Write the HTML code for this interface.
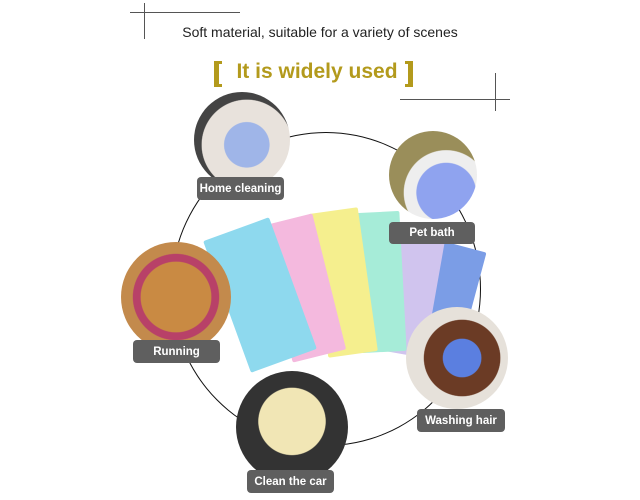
<!DOCTYPE html>
<html><head><style>
body{margin:0;width:640px;height:500px;background:#fff;position:relative;overflow:hidden;font-family:"Liberation Sans",sans-serif}
.a{position:absolute}
.ph{position:absolute;border-radius:50%;overflow:hidden}
.lb{position:absolute;background:#5f5f5f;color:#fff;font-weight:bold;font-size:11.5px;border-radius:4px;display:flex;align-items:center;justify-content:center}
.tw{position:absolute;border-radius:2px}
</style></head><body>
<div class="a" style="left:130px;top:12px;width:110px;height:1px;background:#555"></div>
<div class="a" style="left:144px;top:3px;width:1px;height:36px;background:#555"></div>
<div class="a" style="left:400px;top:99px;width:110px;height:1px;background:#555"></div>
<div class="a" style="left:495px;top:73px;width:1px;height:38px;background:#555"></div>
<div class="a" style="left:0;width:640px;top:24px;text-align:center;font-size:14px;color:#222">Soft material, suitable for a variety of scenes</div>
<div class="a" style="left:0;width:634px;top:60px;text-align:center;font-size:21px;font-weight:bold;color:#b39a1c">It is widely used</div>
<div class="a" style="left:214px;top:61px;width:5px;height:26px;background:#b39a1c"></div>
<div class="a" style="left:214px;top:61px;width:8px;height:3px;background:#b39a1c"></div>
<div class="a" style="left:214px;top:84px;width:8px;height:3px;background:#b39a1c"></div>
<div class="a" style="left:408px;top:61px;width:5px;height:26px;background:#b39a1c"></div>
<div class="a" style="left:405px;top:61px;width:8px;height:3px;background:#b39a1c"></div>
<div class="a" style="left:405px;top:84px;width:8px;height:3px;background:#b39a1c"></div>
<div class="a" style="left:171px;top:132px;width:308px;height:312px;border:1.5px solid #111;border-radius:50%"></div>
<!-- towels -->
<div class="tw" style="left:428px;top:245px;width:45px;height:110px;background:#7b9de6;transform:rotate(15deg)"></div>
<div class="tw" style="left:390px;top:235px;width:45px;height:120px;background:#d0c4ee;transform:rotate(10deg)"></div>
<div class="tw" style="left:358px;top:212px;width:45px;height:140px;background:#a6ecd8;transform:rotate(-3deg)"></div>
<div class="tw" style="left:318px;top:210px;width:50px;height:145px;background:#f5ef8e;transform:rotate(-8deg)"></div>
<div class="tw" style="left:275px;top:218px;width:55px;height:140px;background:#f4b9de;transform:rotate(-14deg)"></div>
<div class="tw" style="left:225px;top:225px;width:70px;height:140px;background:#8ed9ee;transform:rotate(-20deg)"></div>
<!-- photos -->
<div class="ph" style="left:194px;top:92px;width:96px;height:96px;background:radial-gradient(circle at 55% 55%,#9fb5e8 0 30%,#e8e2dc 31% 60%,#444 61%)"></div>
<div class="ph" style="left:389px;top:131px;width:88px;height:88px;background:radial-gradient(circle at 65% 70%,#8fa3ef 0 35%,#eee 36% 50%,#9a8e5a 51%)"></div>
<div class="ph" style="left:121px;top:242px;width:110px;height:110px;background:radial-gradient(circle at 50% 50%,#c98a43 0 45%,#b84168 46% 55%,#c38a4c 56%)"></div>
<div class="ph" style="left:406px;top:307px;width:102px;height:102px;background:radial-gradient(circle at 55% 50%,#5b7fe0 0 25%,#6b3b25 26% 50%,#e6e1da 51%)"></div>
<div class="ph" style="left:236px;top:371px;width:112px;height:112px;background:radial-gradient(circle at 50% 45%,#f1e6b5 0 40%,#333 41%)"></div>
<div class="lb" style="left:197px;top:177px;width:87px;height:23px">Home cleaning</div>
<div class="lb" style="left:389px;top:222px;width:86px;height:22px">Pet bath</div>
<div class="lb" style="left:133px;top:340px;width:87px;height:23px">Running</div>
<div class="lb" style="left:417px;top:409px;width:88px;height:23px">Washing hair</div>
<div class="lb" style="left:247px;top:470px;width:87px;height:23px">Clean the car</div>
</body></html>
